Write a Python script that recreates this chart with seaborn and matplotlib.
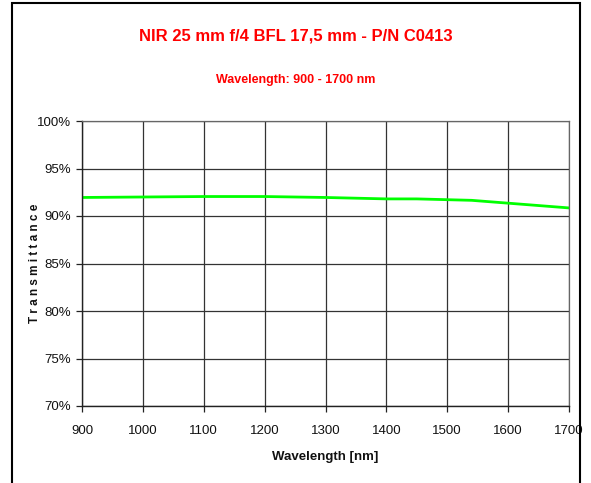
import matplotlib
matplotlib.use("Agg")
import matplotlib.pyplot as plt
from matplotlib.patches import Rectangle
from matplotlib.ticker import FuncFormatter
import seaborn as sns
import pandas as pd

wavelength_nm = [900, 1000, 1100, 1200, 1300, 1400, 1450, 1540, 1600, 1700]
transmittance_pct = [91.95, 92.0, 92.05, 92.05, 91.95, 91.8, 91.8, 91.65, 91.35, 90.85]
x_ticks = [900, 1000, 1100, 1200, 1300, 1400, 1500, 1600, 1700]
y_ticks = [70, 75, 80, 85, 90, 95, 100]

sns.set_style("white")
plt.rcParams["font.family"] = ["Liberation Sans", "DejaVu Sans"]

df = pd.DataFrame({"Wavelength": wavelength_nm, "Transmittance": transmittance_pct})

W, H = 591, 483
fig = plt.figure(figsize=(W / 100, H / 100), dpi=100)
ax = fig.add_axes([82 / W, 1 - 406 / H, (569 - 82) / W, (406 - 121) / H])

sns.lineplot(data=df, x="Wavelength", y="Transmittance", ax=ax,
             color="#00ff00", linewidth=2.0)

ax.set_xlim(900, 1700)
ax.set_ylim(70, 100)
ax.set_xticks(x_ticks)
ax.set_yticks(y_ticks)
ax.yaxis.set_major_formatter(FuncFormatter(lambda v, p: f"{v:.0f}%"))
ax.grid(True, color="#333333", linewidth=0.9)
ax.set_axisbelow(True)

for side in ("top", "right"):
    ax.spines[side].set_color("#666666")
    ax.spines[side].set_linewidth(0.9)
for side in ("left", "bottom"):
    ax.spines[side].set_color("#222222")
    ax.spines[side].set_linewidth(1.0)

ax.tick_params(axis="both", which="major", direction="out", length=4,
               width=0.9, color="#222222", labelsize=9.5, labelcolor="#111111",
               left=True, bottom=True)
ax.tick_params(axis="x", pad=10)
ax.tick_params(axis="y", pad=4)

ax.set_xlabel("Wavelength [nm]", fontsize=9.5, fontweight="bold", color="#111111")
ax.xaxis.set_label_coords(0.5, -(451 - 406) / (406 - 121))
ax.set_ylabel("T r a n s m i t t a n c e", fontsize=8.5, fontweight="bold", color="#111111")
ax.yaxis.set_label_coords(-(82 - 41) / (569 - 82), 0.5)

cx = 0.5 * (12 + 580) / W
fig.text(cx, 1 - 36 / H, "NIR 25 mm f/4 BFL 17,5 mm - P/N C0413",
         color="#ff0000", fontsize=12, fontweight="bold", ha="center", va="center")
fig.text(cx, 1 - 80 / H, "Wavelength: 900 - 1700 nm",
         color="#ff0000", fontsize=9, fontweight="bold", ha="center", va="center")

# Outer frame around the chart
fig.patches.append(Rectangle((12 / W, -0.05), (580 - 12) / W, 1 - 3 / H + 0.05,
                             transform=fig.transFigure, fill=False,
                             edgecolor="black", linewidth=1.5))

fig.savefig("out.png", dpi=100, facecolor="white")
